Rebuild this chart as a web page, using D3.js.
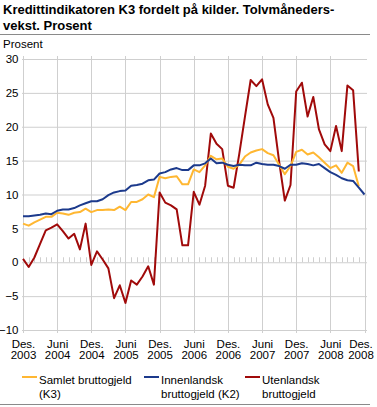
<!DOCTYPE html>
<html>
<head>
<meta charset="utf-8">
<script src="https://cdn.jsdelivr.net/npm/d3@7"></script>
<style>
body{margin:0;background:#fff;}
text{font-family:"Liberation Sans",Arial,sans-serif;fill:#000;}
</style>
</head>
<body>
<svg id="chart" width="377" height="407"></svg>
<script>

// month index 0 = Des. 2003, 60 = Des. 2008
var tickMonths = [0,6,12,18,24,30,36,42,48,54,60];
var tickLabels = [["Des.","2003"],["Juni","2004"],["Des.","2004"],["Juni","2005"],["Des.","2005"],
                  ["Juni","2006"],["Des.","2006"],["Juni","2007"],["Des.","2007"],["Juni","2008"],["Des.","2008"]];
var yTicks = [-10,-5,0,5,10,15,20,25,30];

var samlet = [5.7,5.4,5.9,6.3,6.7,6.7,7.3,7.2,7.0,7.3,
              7.4,7.9,7.4,7.7,7.7,7.8,7.7,8.2,7.7,8.9,
              8.9,9.3,10.0,9.6,12.6,12.4,12.6,12.7,11.5,11.5,
              13.7,13.3,14.3,15.7,15.2,15.3,14.1,13.8,14.4,15.6,
              16.2,16.5,16.7,16.1,15.8,14.4,13.0,14.2,16.3,16.6,
              15.9,16.2,15.5,14.7,13.9,14.3,13.2,14.7,14.2,11.2];
var innenlandsk = [6.8,6.8,6.9,7.0,7.2,7.1,7.6,7.8,7.8,8.0,
                   8.4,8.7,9.0,9.0,9.3,9.9,10.3,10.5,10.6,11.3,
                   11.4,11.6,12.1,12.2,13.1,13.3,13.7,13.9,13.6,13.6,
                   14.3,14.3,14.6,15.3,14.6,14.7,14.4,14.2,14.4,14.3,
                   14.3,14.7,14.5,14.4,14.4,14.2,13.8,14.4,14.4,14.6,
                   14.5,14.3,14.5,13.9,13.3,12.9,12.4,12.1,12.0,11.0,10.0];
var utenlandsk = [0.5,-0.7,0.7,2.7,4.7,5.1,5.6,4.6,3.5,4.2,
                  1.9,5.7,-0.4,1.6,0.4,-0.9,-5.3,-3.4,-6.0,-2.7,
                  -3.3,-2.1,-0.6,-3.3,10.3,8.8,8.4,7.8,2.5,2.5,
                  10.4,8.5,11.3,19.0,17.5,16.7,11.3,11.0,16.0,21.5,
                  26.9,26.0,27.0,23.3,21.3,14.9,9.1,11.4,25.2,26.5,
                  21.5,24.4,19.6,17.4,16.4,20.1,16.4,26.1,25.4,13.4];

var seriesNames = [["Samlet bruttogjeld","(K3)"],["Innenlandsk","bruttogjeld (K2)"],["Utenlandsk","bruttogjeld"]];
var seriesColors = ["#ffb732","#1c3a8c","#a00a0a"];

function draw(){

  svg = d3.select('#chart');
  grid = '#cfcfcf';

  x = d3.scaleLinear().domain([0,60]).range([23,364.5]);
  y = d3.scaleLinear().domain([-10,30]).range([330,59]);

  // title
  svg.append('text').attr('x',3).attr('y',14).style('font-size','13px').style('font-weight','bold')
     .text('Kredittindikatoren K3 fordelt på kilder. Tolvmåneders-');
  svg.append('text').attr('x',3).attr('y',29.5).style('font-size','13px').style('font-weight','bold')
     .text('vekst. Prosent');
  svg.append('line').attr('x1',0).attr('x2',370).attr('y1',34.5).attr('y2',34.5)
     .attr('stroke','#8a8a8a').attr('stroke-width',1);
  svg.append('line').attr('x1',0).attr('x2',370).attr('y1',404.5).attr('y2',404.5)
     .attr('stroke','#8a8a8a').attr('stroke-width',1);

  svg.append('text').attr('x',3).attr('y',48).style('font-size','11.5px').text('Prosent');

  // horizontal grid + y labels
  gy = svg.append('g').attr('transform','translate(22,0)')
          .call(d3.axisLeft(y).tickValues(yTicks).tickSize(-345).tickPadding(3.5));
  gy.select('.domain').remove();
  gy.selectAll('line').attr('stroke',grid);
  gy.selectAll('text').style('font-size','11.5px').style('font-family','"Liberation Sans",Arial,sans-serif');

  // vertical grid
  svg.append('g').selectAll('line').data(tickMonths).enter().append('line')
     .attr('x1',function(d){return Math.round(x(d))+0.5;})
     .attr('x2',function(d){return Math.round(x(d))+0.5;})
     .attr('y1',function(d){return d==60 ? y(20) : y(30)-3;})
     .attr('y2',y(-10)+3)
     .attr('stroke',grid);

  // monthly minor ticks on zero line
  months = d3.range(0,61).filter(function(d){return d%6!=0;});
  svg.append('g').selectAll('line').data(months).enter().append('line')
     .attr('x1',function(d){return Math.round(x(d))+0.5;})
     .attr('x2',function(d){return Math.round(x(d))+0.5;})
     .attr('y1',y(0)-5).attr('y2',y(0))
     .attr('stroke',grid);

  // x labels
  gx = svg.append('g').attr('transform','translate(0,'+y(-10)+')')
          .call(d3.axisBottom(x).tickValues(tickMonths).tickSize(0).tickFormat(''));
  gx.select('.domain').remove();
  gx.selectAll('.tick text').remove();
  gx.selectAll('.tick').each(function(d,i){
    t = d3.select(this).append('text').attr('text-anchor','middle').style('font-size','11.5px');
    t.append('tspan').attr('x',i==10 ? -4 : 0).attr('y',17.5).text(tickLabels[i][0]);
    t.append('tspan').attr('x',i==10 ? -4 : 0).attr('y',28.5).text(tickLabels[i][1]);
  });

  // lines
  series = [samlet,innenlandsk,utenlandsk];
  line = d3.line().x(function(d,i){return x(i);}).y(function(d){return y(d);});
  order = [2,0,1];
  order.forEach(function(k){
    svg.append('path').datum(series[k]).attr('d',line).attr('fill','none')
       .attr('stroke',seriesColors[k]).attr('stroke-width',2).attr('stroke-linejoin','round');
  });

  // legend
  legX = [22,144,245];
  lg = svg.append('g').selectAll('g').data(seriesNames).enter().append('g')
          .attr('transform',function(d,i){return 'translate('+legX[i]+',377)';});
  lg.append('line').attr('x1',0).attr('x2',15).attr('y1',0).attr('y2',0)
    .attr('stroke',function(d,i){return seriesColors[i];}).attr('stroke-width',2);
  lg.append('text').attr('x',17).attr('y',7).style('font-size','11.5px').text(function(d){return d[0];});
  lg.append('text').attr('x',17).attr('y',21).style('font-size','11.5px').text(function(d){return d[1];});
}

draw();
</script>
</body>
</html>
